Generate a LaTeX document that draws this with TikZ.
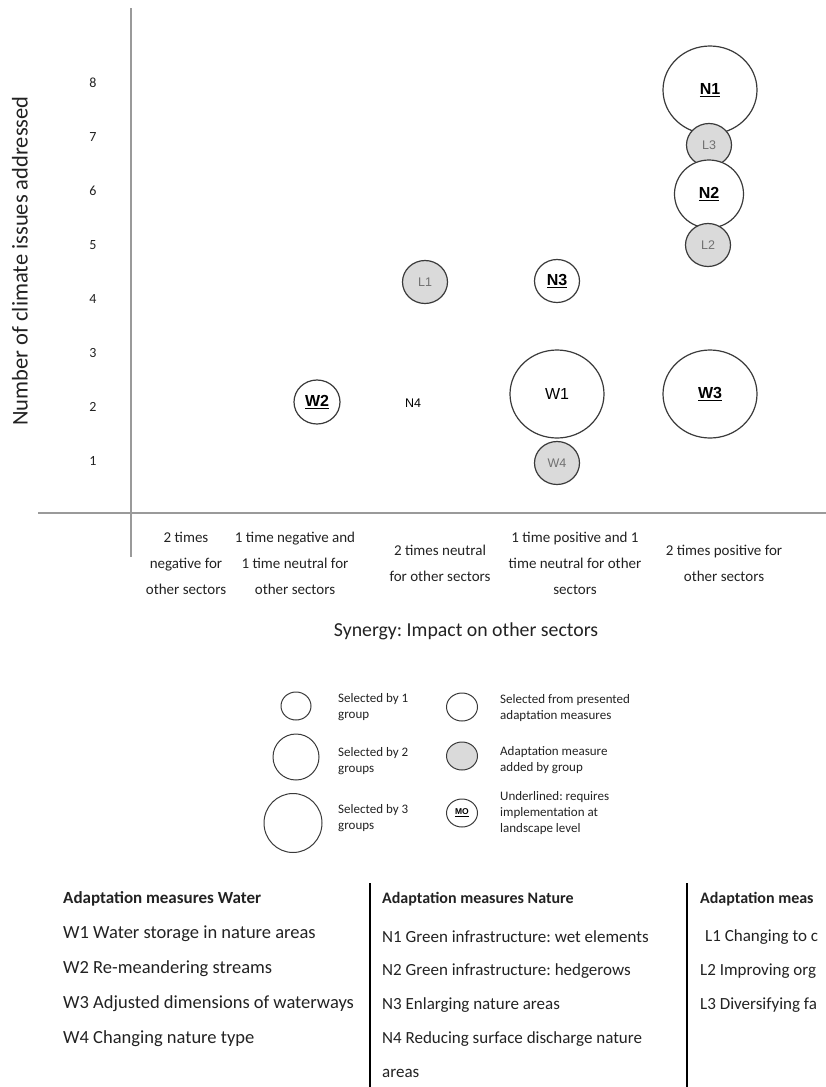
\documentclass[tikz,border=0pt]{standalone}
\usepackage{fontspec}
\setmainfont{Carlito}
\newfontfamily\arialf{Liberation Sans}
\usetikzlibrary{shapes.geometric}
\newcommand\fsz[2]{\fontsize{#1}{#2}\selectfont}
\definecolor{circ}{HTML}{3A3A3A}
\definecolor{addfill}{HTML}{DADADA}
\definecolor{axisc}{HTML}{9A9A9A}
\definecolor{txt}{HTML}{222222}
\definecolor{graytxt}{HTML}{707070}
\frenchspacing
\begin{document}
\frenchspacing
\begin{tikzpicture}[x=1pt,y=-1pt,
  bub/.style={ellipse, draw=circ, line width=1.2pt, fill=white, inner sep=0pt, text=black},
  added/.style={bub, fill=addfill, text=graytxt, font=\arialf\fsz{12.5}{14}},
  big/.style={minimum width=94pt, minimum height=88pt},
  mid/.style={minimum width=69pt, minimum height=68pt},
  small/.style={minimum width=45pt, minimum height=43pt},
  ulab/.style={font=\arialf\bfseries\fsz{16}{18}},
  axis/.style={draw=axisc, line width=1.2pt},
  tick/.style={font=\fsz{14}{16}, text=txt},
  cat/.style={font=\fsz{15}{26}, align=center, text=txt},
  legc/.style={ellipse, draw=circ, line width=1pt, fill=white, inner sep=0pt},
  legt/.style={font=\fsz{13}{16}, align=left, anchor=west, text=txt, inner sep=0pt},
  head/.style={font=\bfseries\fsz{16}{18}, anchor=west, text=txt, inner sep=0pt},
  item/.style={font=\fsz{17}{20}, anchor=west, text=txt, inner sep=0pt},
  itemw/.style={item, font=\fsz{18.5}{21}},
  sep/.style={draw=black, line width=2pt}
]
\useasboundingbox (0,0) rectangle (826,1087);
\clip (0,0) rectangle (826,1087);

% axes
\coordinate (yt) at (131,8);
\coordinate (yb) at (131,557);
\coordinate (xl) at (38,513);
\coordinate (xr) at (826,513);
\draw[axis] (yt) -- (yb);
\draw[axis] (xl) -- (xr);

% y ticks
\foreach \v in {1,...,8} {
  \node[tick] (tick\v) at (93,{515-54*\v}) {\v};
}
\node[rotate=90, font=\fsz{22.5}{26}, text=txt] (ylab) at (20,261) {Number of climate issues addressed};

% categories
\node[cat] (c1) at (186,563) {2 times\\negative for\\other sectors};
\node[cat] (c2) at (295,563) {1 time negative and\\1 time neutral for\\other sectors};
\node[cat] (c3) at (440,563.5) {2 times neutral\\for other sectors};
\node[cat] (c4) at (575,563) {1 time positive and 1\\time neutral for other\\sectors};
\node[cat] (c5) at (724,563.5) {2 times positive for\\other sectors};
\node[font=\fsz{19.8}{22}, text=txt] (xlab) at (466,631) {Synergy: Impact on other sectors};

% bubbles
\node[bub, big, ulab] (N1) at (710,90) {\underline{N1}};
\node[added, small] (L3) at (709,145) {L3};
\node[bub, mid, ulab] (N2) at (709,194) {\underline{N2}};
\node[added, small] (L2) at (708,245) {L2};
\node[added, small] (L1) at (425,282) {L1};
\node[bub, small, ulab] (N3) at (557,281) {\underline{N3}};
\node[bub, small, minimum width=46pt, minimum height=44pt, ulab] (W2) at (317,402) {\underline{W2}};
\node[font=\arialf\fsz{12.5}{14}] (N4) at (413,403) {N4};
\node[bub, big, font=\arialf\fsz{16}{18}] (W1) at (557,394) {W1};
\node[added, small] (W4) at (557,463) {W4};
\node[bub, big, ulab] (W3) at (710,394) {\underline{W3}};

% legend
\node[legc, minimum width=30pt, minimum height=28pt] (lg1) at (296,706) {};
\node[legc, minimum width=46pt, minimum height=46pt] (lg2) at (296,757) {};
\node[legc, minimum width=58pt, minimum height=59pt] (lg3) at (293,823) {};
\node[legc, minimum width=31pt, minimum height=28pt] (lr1) at (462,707) {};
\node[legc, fill=addfill, minimum width=31pt, minimum height=28pt] (lr2) at (462,756) {};
\node[legc, minimum width=31pt, minimum height=28pt, font=\arialf\bfseries\fsz{8.5}{10}] (lr3) at (462,813) {\underline{MO}};
\node[legt] (lt1) at (338,707) {Selected by 1\\group};
\node[legt] (lt2) at (338,761) {Selected by 2\\groups};
\node[legt] (lt3) at (338,818) {Selected by 3\\groups};
\node[legt] (rt1) at (500,708) {Selected from presented\\adaptation measures};
\node[legt] (rt2) at (500,760) {Adaptation measure\\added by group};
\node[legt] (rt3) at (500,813) {Underlined: requires\\implementation at\\landscape level};

% table
\coordinate (s1t) at (370,883);
\coordinate (s1b) at (370,1087);
\coordinate (s2t) at (687,883);
\coordinate (s2b) at (687,1087);
\draw[sep] (s1t) -- (s1b);
\draw[sep] (s2t) -- (s2b);

\node[head, font=\bfseries\fsz{17}{19}] (hw) at (63,899) {Adaptation measures Water};
\node[itemw] (w1) at (63,934) {W1 Water storage in nature areas};
\node[itemw] (w2) at (63,969) {W2 Re-meandering streams};
\node[itemw] (w3) at (63,1004) {W3 Adjusted dimensions of waterways};
\node[itemw] (w4) at (63,1039) {W4 Changing nature type};

\node[head] (hn) at (382,899) {Adaptation measures Nature};
\node[item] (n1) at (382,937) {N1 Green infrastructure: wet elements};
\node[item] (n2) at (382,971) {N2 Green infrastructure: hedgerows};
\node[item] (n3) at (382,1005) {N3 Enlarging nature areas};
\node[item] (n4) at (382,1039) {N4 Reducing surface discharge nature};
\node[item] (n4b) at (382,1073) {areas};

\node[head] (hl) at (700,899) {Adaptation meas};
\node[item] (l1) at (705,937) {L1 Changing to c};
\node[item] (l2) at (700,971) {L2 Improving org};
\node[item] (l3) at (700,1005) {L3 Diversifying fa};
\end{tikzpicture}
\end{document}
